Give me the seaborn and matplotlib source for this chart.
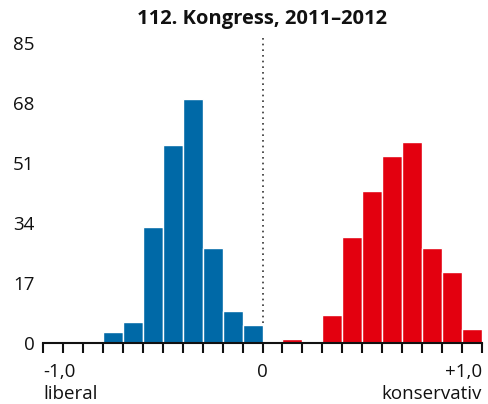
import numpy as np
import pandas as pd
import matplotlib.pyplot as plt
import seaborn as sns

# Histogram: 22 equal bins between -1 and +1
bin_edges = list(np.linspace(-1, 1, 23))
dem_counts = [0, 0, 0, 3, 6, 33, 56, 69, 27, 9, 5, 0, 0, 0, 0, 0, 0, 0, 0, 0, 0, 0]
rep_counts = [0, 0, 0, 0, 0, 0, 0, 0, 0, 0, 0, 0, 1, 0, 8, 30, 43, 53, 57, 27, 20, 4]
y_ticks = [0, 17, 34, 51, 68, 85]
x_labels = ["-1,0\nliberal", "0", "+1,0\nkonservativ"]
title = "112. Kongress, 2011–2012"

blue = "#0069a7"
red = "#e3000f"

edges = np.array(bin_edges)
centers = (edges[:-1] + edges[1:]) / 2
df = pd.concat([
    pd.DataFrame({"score": centers, "count": dem_counts, "party": "D"}),
    pd.DataFrame({"score": centers, "count": rep_counts, "party": "R"}),
], ignore_index=True)

sns.set_theme(style="white")
plt.rcParams["font.family"] = ["Open Sans", "DejaVu Sans"]

fig = plt.figure(figsize=(4.88, 4.04), dpi=100)
ax = fig.add_axes([43 / 488, 61 / 404, 439 / 488, 300 / 404])

sns.histplot(data=df, x="score", weights="count", hue="party", bins=bin_edges,
             palette={"D": blue, "R": red}, alpha=1, edgecolor="white",
             linewidth=1, multiple="layer", legend=False, ax=ax)

# dotted centre line
ax.vlines(0, 5.7, 86.7, colors="#333333", linestyles=[(0, (1, 2.4))],
          linewidth=1.2, clip_on=False, zorder=0)

ax.set_xlim(-1, 1)
ax.set_ylim(0, 85)
ax.set_xlabel("")
ax.set_ylabel("")

for s in ["top", "right", "left"]:
    ax.spines[s].set_visible(False)
ax.spines["bottom"].set_color("#111111")
ax.spines["bottom"].set_linewidth(1.5)

ax.set_yticks(y_ticks)
ax.set_yticklabels([str(v) for v in y_ticks], fontsize=13.5, color="#111111")
ax.tick_params(axis="y", length=0, pad=6)

ax.set_xticks(bin_edges, minor=True)
ax.set_xticks([-1, 0, 1])
ax.set_xticklabels(x_labels, fontsize=13.5, color="#111111", linespacing=1.3)
for lab, ha in zip(ax.get_xticklabels(), ["left", "center", "right"]):
    lab.set_horizontalalignment(ha)
ax.tick_params(axis="x", which="both", direction="out", length=7,
               width=1.5, color="#111111", bottom=True, pad=7.5)

fig.text(262 / 488, 1 - 19 / 404, title, ha="center", va="center",
         fontsize=14.5, fontweight="bold", color="#111111")

fig.savefig("out.png", dpi=100)
